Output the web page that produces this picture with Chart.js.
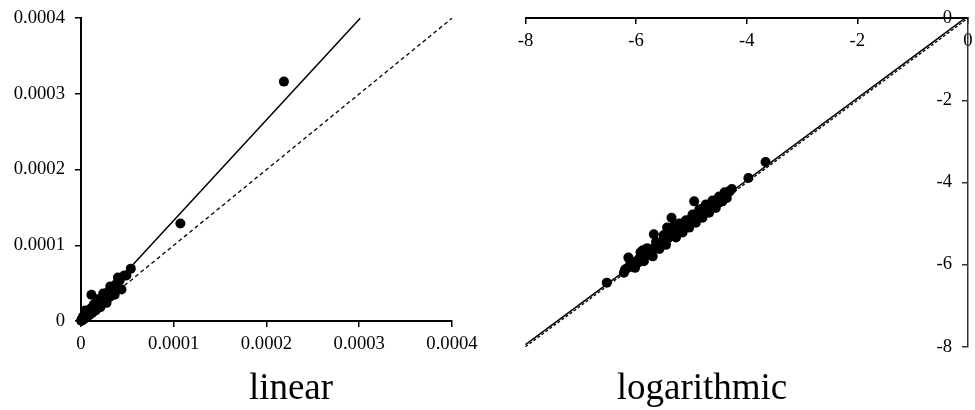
<!DOCTYPE html>
<html>
<head>
<meta charset="utf-8">
<script src="https://cdn.jsdelivr.net/npm/chart.js@4/dist/chart.umd.min.js"></script>
<style>
  body { margin: 0; background: #fff; }
  #wrap { position: relative; width: 975px; height: 410px; overflow: hidden; }
  canvas { position: absolute; top: 0; }
  #c1 { left: 0; }
  #c2 { left: 490px; }
  .cap { position: absolute; top: 368px; font-family: 'Times New Roman', 'Liberation Serif', serif;
         font-size: 37px; line-height: 37px; color: #000; text-align: center; width: 300px; }
</style>
</head>
<body>
<div id="wrap">
  <canvas id="c1" width="490" height="410"></canvas>
  <canvas id="c2" width="510" height="410"></canvas>
  <div class="cap" style="left:141px">linear</div>
  <div class="cap" style="left:552px">logarithmic</div>
</div>
<script>
const logX = [-6.53, -6.22, -6.20, -6.15, -6.14, -6.10, -6.08, -6.05, -6.02, -6.00,
  -5.96, -5.93, -5.92, -5.90, -5.88, -5.86, -5.85, -5.82, -5.80, -5.78,
  -5.75, -5.72, -5.70, -5.68, -5.66, -5.64, -5.63, -5.60, -5.58, -5.57,
  -5.54, -5.51, -5.50, -5.48, -5.46, -5.45, -5.44, -5.42, -5.40, -5.39,
  -5.36, -5.35, -5.34, -5.32, -5.29, -5.28, -5.26, -5.23, -5.22, -5.20,
  -5.17, -5.16, -5.14, -5.11, -5.10, -5.08, -5.05, -5.04, -5.02, -4.99,
  -4.98, -4.96, -4.95, -4.93, -4.92, -4.90, -4.87, -4.86, -4.84, -4.81,
  -4.80, -4.78, -4.75, -4.74, -4.72, -4.69, -4.68, -4.66, -4.63, -4.62,
  -4.60, -4.57, -4.56, -4.54, -4.51, -4.50, -4.48, -4.45, -4.44, -4.42,
  -4.40, -4.38, -4.36, -4.33, -4.31, -4.27, -3.97, -3.66];
const logY = [-6.44, -6.20, -6.12, -6.08, -5.83, -5.95, -6.02, -5.98, -6.08, -5.92,
  -5.95, -5.82, -5.70, -5.87, -5.65, -5.92, -5.80, -5.74, -5.60, -5.76,
  -5.66, -5.70, -5.80, -5.26, -5.58, -5.45, -5.60, -5.48, -5.62, -5.52,
  -5.45, -5.40, -5.28, -5.44, -5.52, -5.33, -5.10, -5.36, -5.30, -5.22,
  -4.86, -5.30, -5.08, -5.20, -5.26, -5.34, -5.12, -5.18, -5.00, -5.08,
  -5.14, -5.22, -5.02, -5.06, -4.92, -4.98, -5.00, -5.10, -4.90, -4.96,
  -4.78, -4.84, -4.46, -4.88, -4.98, -4.80, -4.84, -4.66, -4.70, -4.76,
  -4.86, -4.62, -4.72, -4.54, -4.58, -4.66, -4.74, -4.53, -4.60, -4.44,
  -4.47, -4.52, -4.62, -4.42, -4.50, -4.34, -4.36, -4.40, -4.46, -4.31,
  -4.24, -4.27, -4.38, -4.22, -4.22, -4.16, -3.89, -3.50];

// fitted line (solid) and 1:1 line (dashed), linear panel
const linFitX = [0, 0.000301];
const linFitY = [0, 0.0004];
const linOneX = [0, 0.0004];
const linOneY = [0, 0.0004];
const linTicks = [0, 0.0001, 0.0002, 0.0003, 0.0004];
const linTickLabels = ['0', '0.0001', '0.0002', '0.0003', '0.0004'];

// log panel lines
const logFitX = [-8, -0.05];
const logFitY = [-7.95, 0];
const logOneX = [-8, 0];
const logOneY = [-8, 0];
const logTicks = [-8, -6, -4, -2, 0];
const logTickLabels = ['-8', '-6', '-4', '-2', '0'];

const FONT = "'Times New Roman', 'Liberation Serif', serif";
const pairs = (xs, ys) => xs.map((x, i) => ({x: x, y: ys[i]}));

function axis(ticks, labels, pos, bw, bc, showLabels) {
  return {
    type: 'linear',
    min: ticks[0], max: ticks[ticks.length - 1],
    position: pos,
    afterBuildTicks: s => { s.ticks = ticks.map(v => ({value: v})); },
    grid: { display: bw > 0, drawOnChartArea: false, color: bc, tickLength: 5, lineWidth: 1.5 },
    border: { display: bw > 0, color: bc, width: bw },
    ticks: {
      display: showLabels,
      color: '#000', padding: 7, font: { family: FONT, size: 18.67 },
      callback: (v, i) => labels[i]
    }
  };
}

function makeChart(id, pts, fit, one, xt, xl, yt, yl, pad, dash, yBorder, yColor) {
  const canvas = document.getElementById(id);
  // y labels sit 16px left of the y axis line: express that gap in x units
  const areaW = canvas.width - pad.left - pad.right;
  const gap = 16 * (xt[xt.length - 1] - xt[0]) / areaW;
  return new Chart(canvas, {
    type: 'scatter',
    data: {
      datasets: [
        { data: pts, pointRadius: 5, pointBackgroundColor: '#000', pointBorderWidth: 0, clip: false, order: 0 },
        { data: fit, showLine: true, borderColor: '#000', borderWidth: 1.5, pointRadius: 0, clip: false, order: 1 },
        { data: one, showLine: true, borderColor: '#000', borderWidth: 1.3, borderDash: dash, pointRadius: 0, clip: false, order: 2 }
      ]
    },
    options: {
      responsive: false,
      animation: false,
      layout: { padding: pad },
      plugins: { legend: { display: false }, tooltip: { enabled: false } },
      scales: {
        x: axis(xt, xl, {y: 0}, 2, '#000', true),
        y: axis(yt, yl, {x: 0}, yBorder, yColor, false),
        yLabels: axis(yt, yl, {x: -gap}, 0, yColor, true)
      }
    }
  });
}

makeChart('c1',
  pairs(logX.map(v => Math.pow(10, v)), logY.map(v => Math.pow(10, v))),
  pairs(linFitX, linFitY), pairs(linOneX, linOneY),
  linTicks, linTickLabels, linTicks, linTickLabels,
  { left: 81, right: 38, top: 16, bottom: 89 }, [4, 3], 2, '#000');

makeChart('c2',
  pairs(logX, logY),
  pairs(logFitX, logFitY), pairs(logOneX, logOneY),
  logTicks, logTickLabels, logTicks, logTickLabels,
  { left: 35.5, right: 32, top: 16, bottom: 63.3 }, [3, 2], 1.5, '#333');
</script>
</body>
</html>
